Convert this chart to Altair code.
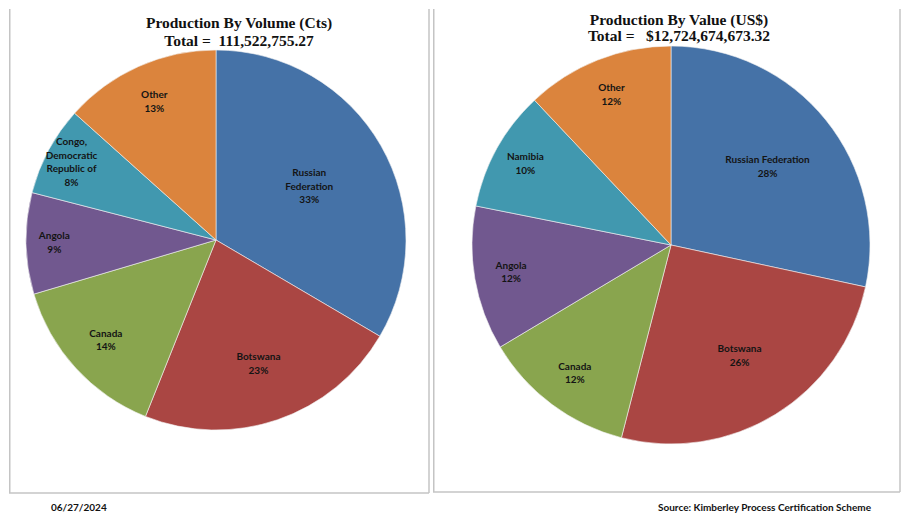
import altair as alt
import pandas as pd

# ---- data ----
vol_labels = ["Russian|Federation", "Botswana", "Canada", "Angola",
              "Congo,|Democratic|Republic of", "Other"]
vol_values = [37.3, 25.2, 16.0, 9.6, 8.5, 14.9]          # million carats
val_labels = ["Russian Federation", "Botswana", "Canada", "Angola",
              "Namibia", "Other"]
val_values = [3.61, 3.26, 1.58, 1.49, 1.25, 1.53]        # billion US$

vol_title = ["Production By Volume (Cts)", "Total =\u00a0\u00a0111,522,755.27"]
val_title = ["Production By Value (US$)", "Total =\u00a0\u00a0\u00a0$12,724,674,673.32"]
footer_date = "06/27/2024"
footer_source = "Source: Kimberley Process Certification Scheme"

colors = ["#4572A7", "#AA4643", "#89A54E", "#71588F", "#4198AF", "#DB843D"]

LABEL_FONT = "Lato"
TITLE_FONT = "Liberation Serif"
BORDER = "#c4c4c4"
LH = 13.5


def panel(labels, values, W, H, cx, cy, R, title, tx, ty, footer=None):
    df = pd.DataFrame({"idx": list(range(len(labels))), "label": labels, "value": values})
    base = alt.Chart(df).transform_joinaggregate(
        total="sum(value)"
    ).transform_window(
        cum="sum(value)", sort=[alt.SortField("idx")], frame=[None, 0]
    ).transform_calculate(
        mid="datum.cum - datum.value / 2",
        txt="datum.label + '|' + format(datum.value / datum.total, '.0%')",
        lr=f"{R} * (0.95 - 1.15 * datum.value / datum.total)",
    ).transform_calculate(
        yoff=f"-(split(datum.txt, '|').length - 1) * {LH} / 2",
    )
    arcs = base.mark_arc(outerRadius=R, stroke="#f4f4f4", strokeWidth=0.6).encode(
        theta=alt.Theta("value:Q", stack=True),
        order=alt.Order("idx:Q"),
        color=alt.Color("idx:N", scale=alt.Scale(domain=list(range(6)), range=colors), legend=None),
        x=alt.value(cx), y=alt.value(cy),
    )
    texts = base.mark_text(
        lineBreak="|", font=LABEL_FONT, fontWeight="bold", fontSize=10,
        lineHeight=LH, color="#141414", align="center", baseline="middle",
    ).encode(
        theta=alt.Theta("mid:Q"),
        radius=alt.Radius("lr:Q", scale=None),
        text="txt:N",
        x=alt.value(cx), y=alt.value(cy),
        yOffset=alt.YOffset("yoff:Q", scale=None),
    )
    one = alt.Data(values=[{}])
    t1 = alt.Chart(one).mark_text(
        text=title[0], font=TITLE_FONT, fontWeight="bold", fontSize=15.5, color="#111",
        align="center", baseline="middle",
    ).encode(x=alt.value(tx), y=alt.value(ty[0]))
    t2 = alt.Chart(one).mark_text(
        text=title[1], font=TITLE_FONT, fontWeight="bold", fontSize=15.5, color="#111",
        align="center", baseline="middle",
    ).encode(x=alt.value(tx), y=alt.value(ty[1]))
    rl = alt.Chart(one).mark_rule(color=BORDER, strokeWidth=1.5).encode(
        x=alt.value(0.75), y=alt.value(0), y2=alt.value(H - 1))
    rr = alt.Chart(one).mark_rule(color=BORDER, strokeWidth=1.5).encode(
        x=alt.value(W - 1), y=alt.value(0), y2=alt.value(H - 1))
    rb = alt.Chart(one).mark_rule(color=BORDER, strokeWidth=1.5).encode(
        x=alt.value(0), x2=alt.value(W - 1), y=alt.value(H - 1))
    layers = [rl, rr, rb, arcs, texts, t1, t2]
    if footer is not None:
        txt, fx, fy, al = footer
        layers.append(alt.Chart(one).mark_text(
            text=txt, font=LABEL_FONT, fontWeight="bold", fontSize=10, color="#111",
            align=al, baseline="middle",
        ).encode(x=alt.value(fx), y=alt.value(fy)))
    return alt.layer(*layers).properties(width=W, height=H)


left = panel(vol_labels, vol_values, W=421, H=485, cx=207, cy=231, R=190,
             title=vol_title, tx=230, ty=[14, 32],
             footer=(footer_date, 42, 499, "left"))
right = panel(val_labels, val_values, W=468, H=484, cx=238, cy=236, R=199,
              title=val_title, tx=246, ty=[11, 27],
              footer=(footer_source, 438, 499, "right"))

chart = alt.hconcat(left, right, spacing=2).properties(padding=0).configure_view(stroke=None)

chart.save("out.html", embed_options={"renderer": "svg", "actions": False})
